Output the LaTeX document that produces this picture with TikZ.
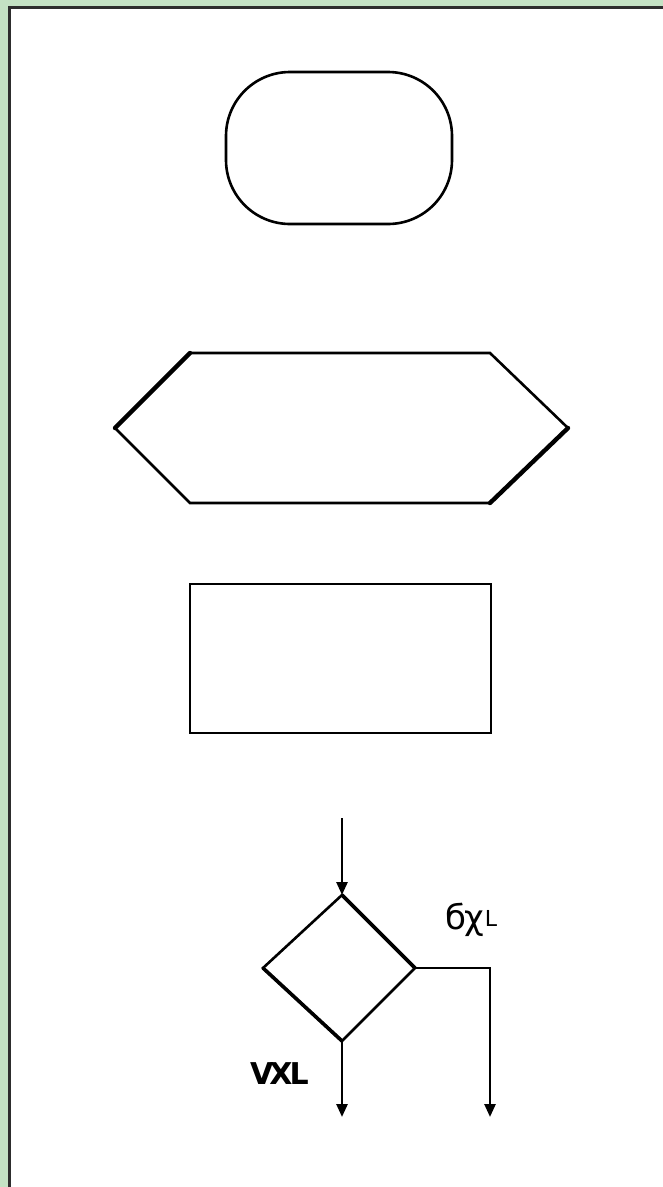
\documentclass[tikz,border=0pt]{standalone}
\usepackage{fontspec}
\newfontfamily\dejavu{DejaVu Sans}
\usetikzlibrary{shapes.geometric,arrows.meta}
\definecolor{bggreen}{RGB}{196,226,196}
\definecolor{frame}{RGB}{45,45,45}
\tikzset{
  thin line/.style={line width=2.6pt},
  thick line/.style={line width=4.4pt},
  flow/.style={line width=2.6pt,-{Triangle[width=11pt,length=13pt]}},
  lbl/.style={inner sep=0pt,font=\dejavu}
}
\begin{document}
\begin{tikzpicture}[x=1pt,y=-1pt]
\useasboundingbox (0,0) rectangle (663,1187);
\fill[bggreen] (0,0) rectangle (663,1187);
\fill[white] (9,8) rectangle (663,1187);
\draw[frame,line width=3pt] (9.5,1187) -- (9.5,7.5) -- (663,7.5);
% terminal
\node[draw,thin line,rounded corners=64pt,minimum width=226pt,minimum height=152pt,inner sep=0pt] (term) at (339,148) {};
% preparation hexagon
\coordinate (hL) at (115,428);
\coordinate (hTL) at (190,353);
\coordinate (hTR) at (490,353);
\coordinate (hR) at (568,428);
\coordinate (hBR) at (490,503);
\coordinate (hBL) at (190,503);
\draw[thin line,line join=miter] (hL) -- (hTL) -- (hTR) -- (hR) -- (hBR) -- (hBL) -- cycle;
\draw[thick line,line cap=round] (hL) -- (hTL);
\draw[thick line,line cap=round] (hR) -- (hBR);
% process
\node[draw,thin line,minimum width=301pt,minimum height=149pt,inner sep=0pt] (proc) at (340.5,658.5) {};
% decision
\coordinate (dT) at (342,895);
\coordinate (dL) at (263,968);
\coordinate (dR) at (415,968);
\coordinate (dB) at (342,1041);
\draw[thin line] (dT) -- (dR) -- (dB) -- (dL) -- cycle;
\draw[line width=3.6pt] (dT) -- (dR);
\draw[line width=3.6pt] (dB) -- (dL);
\coordinate (in) at (342,818);
\coordinate (corner) at (490,968);
\coordinate (outA) at (342,1117);
\coordinate (outB) at (490,1117);
\draw[flow] (in) -- (dT);
\draw[flow] (dB) -- (outA);
\draw[flow,line join=miter] (dR) -- (corner) -- (outB);
\node[lbl,anchor=south west,font=\dejavu\fontsize{34}{34}\selectfont] (yes) at (445,937) {б\kern-2ptχ\kern1pt\raisebox{3pt}{\fontsize{22}{22}\selectfont L}};
\node[lbl,anchor=west,font=\dejavu\bfseries\fontsize{30}{30}\selectfont] (no) at (250,1074) {V\kern-4ptX\kern-3ptL};
\end{tikzpicture}
\end{document}
